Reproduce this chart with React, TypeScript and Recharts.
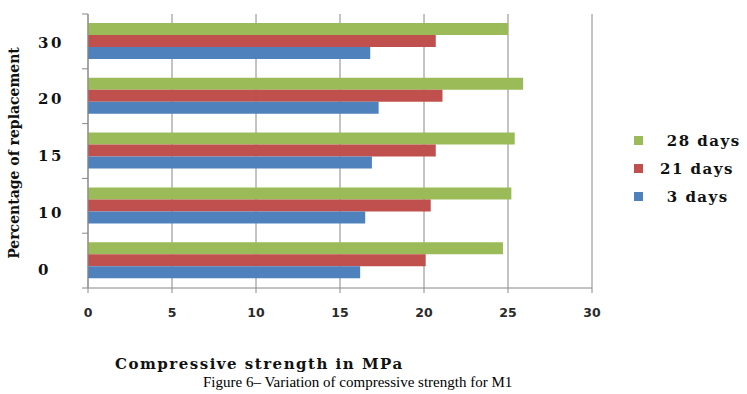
import { BarChart, Bar, XAxis, YAxis, CartesianGrid } from 'recharts';

const replacement = ['0', '10', '15', '20', '30'];
const days3 = [16.2, 16.5, 16.9, 17.3, 16.8];
const days21 = [20.1, 20.4, 20.7, 21.1, 20.7];
const days28 = [24.7, 25.2, 25.4, 25.9, 25.0];
const strengthTicks = [0, 5, 10, 15, 20, 25, 30];

const COLORS = {
  d3: '#4f81bd',
  d21: '#c0504d',
  d28: '#9bbb59',
};

const GRID = '#888888';
const SERIF_BOLD = '"DejaVu Serif", serif';
const AXIS_X = 88;

const data = replacement.map((r, i) => ({
  name: r,
  d3: days3[i],
  d21: days21[i],
  d28: days28[i],
}));

// legend order top -> bottom, leading nbsp mimics the original's spacing
const legendItems = [
  { key: 'd28', label: '\u00a028 days' },
  { key: 'd21', label: '21 days' },
  { key: 'd3', label: '\u00a03 days' },
];

function CategoryTick(props: any) {
  const { y, payload, index } = props;
  const half = payload.offset ?? 27.4;
  const nudge = 9.5 - index * 2.1;
  return (
    <g>
      <line x1={AXIS_X - 6} x2={AXIS_X} y1={y - half} y2={y - half} stroke={GRID} />
      {index === 0 && (
        <line x1={AXIS_X - 6} x2={AXIS_X} y1={y + half} y2={y + half} stroke={GRID} />
      )}
      <text
        x={38}
        y={y + nudge}
        textAnchor="start"
        dominantBaseline="central"
        fontFamily={SERIF_BOLD}
        fontWeight="bold"
        fontSize={15}
        letterSpacing={2.5}
        fill="#111"
      >
        {payload.value}
      </text>
    </g>
  );
}

function SideLegend() {
  return (
    <div
      style={{
        position: 'absolute',
        left: 634,
        top: 131,
        display: 'flex',
        flexDirection: 'column',
        gap: 9,
      }}
    >
      {legendItems.map((it) => (
        <div key={it.key} style={{ display: 'flex', alignItems: 'center', height: 19 }}>
          <span
            style={{
              width: 9,
              height: 9,
              background: COLORS[it.key as keyof typeof COLORS],
              marginRight: 17,
              display: 'inline-block',
            }}
          />
          <span
            style={{
              fontFamily: SERIF_BOLD,
              fontWeight: 'bold',
              fontSize: 15,
              letterSpacing: 1.5,
              color: '#111',
              whiteSpace: 'pre',
            }}
          >
            {it.label}
          </span>
        </div>
      ))}
    </div>
  );
}

export default function App() {
  return (
    <div style={{ position: 'absolute', left: 0, top: 0, width: 747, height: 394, background: '#fff' }}>
      <BarChart
        width={747}
        height={394}
        data={data}
        layout="vertical"
        margin={{ top: 14, right: 155, bottom: 0, left: 0 }}
        barSize={12}
        barGap={0}
      >
        <CartesianGrid horizontal={false} stroke={GRID} />
        <XAxis
          type="number"
          domain={[0, 30]}
          ticks={strengthTicks}
          height={106}
          stroke={GRID}
          tickSize={5}
          tickMargin={15}
          tick={{ fill: '#2a2a2a', fontSize: 12.5, fontWeight: 'bold', fontFamily: '"DejaVu Sans", sans-serif' }}
        />
        <YAxis
          type="category"
          dataKey="name"
          reversed
          width={AXIS_X}
          stroke={GRID}
          tickLine={false}
          tick={<CategoryTick />}
        />
        <Bar dataKey="d28" name="28 days" fill={COLORS.d28} isAnimationActive={false} />
        <Bar dataKey="d21" name="21 days" fill={COLORS.d21} isAnimationActive={false} />
        <Bar dataKey="d3" name="3 days" fill={COLORS.d3} isAnimationActive={false} />
      </BarChart>
      <SideLegend />
      <div
        style={{
          position: 'absolute',
          left: 4,
          top: 153,
          transform: 'translate(-50%, -50%) rotate(-90deg)',
          marginLeft: 10,
          whiteSpace: 'nowrap',
          fontFamily: SERIF_BOLD,
          fontWeight: 'bold',
          fontSize: 14,
          color: '#111',
        }}
      >
        Percentage of replacement
      </div>
      <div
        style={{
          position: 'absolute',
          left: 115,
          top: 355,
          whiteSpace: 'nowrap',
          fontFamily: SERIF_BOLD,
          fontWeight: 'bold',
          fontSize: 15,
          letterSpacing: 1.5,
          color: '#111',
        }}
      >
        Compressive strength in MPa
      </div>
      <div
        style={{
          position: 'absolute',
          left: 203,
          top: 374,
          whiteSpace: 'nowrap',
          fontFamily: '"Liberation Serif", serif',
          fontSize: 15,
          color: '#000',
        }}
      >
        Figure 6– Variation of compressive strength for M1
      </div>
    </div>
  );
}
